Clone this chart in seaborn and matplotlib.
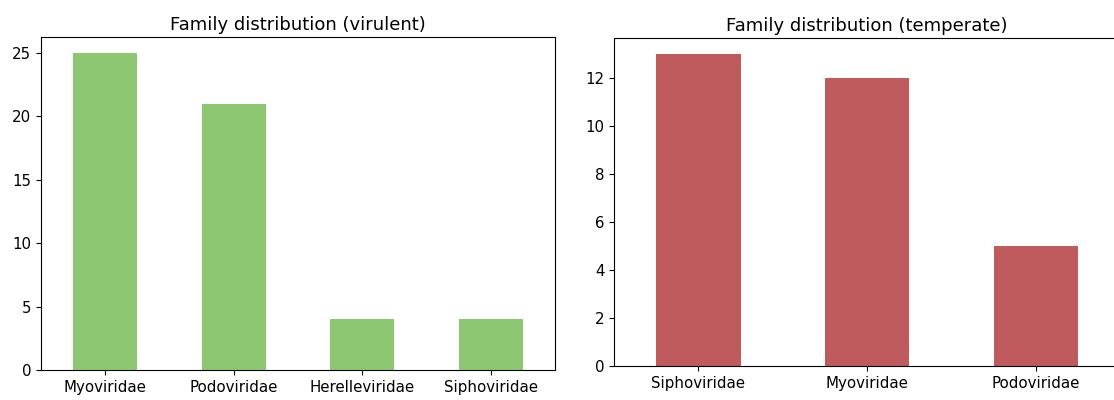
import matplotlib
matplotlib.use('Agg')
import matplotlib.pyplot as plt
import seaborn as sns

# Family counts per lifestyle
virulent_families = ['Myoviridae', 'Podoviridae', 'Herelleviridae', 'Siphoviridae']
virulent_counts = [25, 21, 4, 4]

temperate_families = ['Siphoviridae', 'Myoviridae', 'Podoviridae']
temperate_counts = [13, 12, 5]

# the source image was a bit upscaled, so text is slightly larger than default
plt.rcParams['xtick.labelsize'] = 10.8
plt.rcParams['ytick.labelsize'] = 10.8
plt.rcParams['axes.titlesize'] = 13

fig = plt.figure(figsize=(11.14, 4), dpi=100)

# Left panel: virulent
ax1 = fig.add_axes([0.0368, 0.075, 0.4614, 0.8325])
sns.barplot(x=virulent_families, y=virulent_counts, color='#8ec772',
            saturation=1, width=0.5, ax=ax1)
ax1.set_xlim(-0.5, 3.5)
ax1.set_ylim(0, max(virulent_counts) * 1.05)
ax1.set_title('Family distribution (virulent)', pad=5)

# Right panel: temperate (runs off the right edge, as in the original)
ax2 = fig.add_axes([0.5512, 0.085, 0.4542, 0.82])
sns.barplot(x=temperate_families, y=temperate_counts, color='#bf5b5c',
            saturation=1, width=0.5, ax=ax2)
ax2.set_xlim(-0.5, 2.5)
ax2.set_ylim(0, max(temperate_counts) * 1.05)
ax2.set_title('Family distribution (temperate)', pad=5)
ax2.spines['right'].set_visible(False)

fig.savefig('out.png', dpi=100)
plt.close()
